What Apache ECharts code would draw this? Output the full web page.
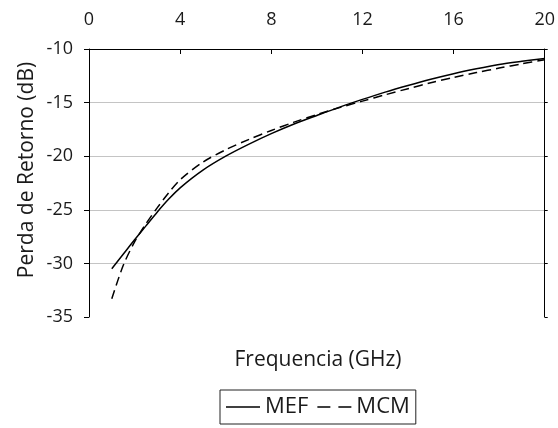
<!DOCTYPE html>
<html><head><meta charset="utf-8">
<script src="https://cdn.jsdelivr.net/npm/echarts@6/dist/echarts.min.js"></script>
<style>html,body{margin:0;padding:0;background:#fff}#c{width:558px;height:428px}</style>
</head><body><div id="c"></div>
<script>
const freq = [1, 1.5, 2, 2.5, 3, 3.5, 4, 5, 6, 7, 8, 9, 10, 11, 12, 13, 14, 15, 16, 17, 18, 19, 20];
const mef  = [-30.5, -29.15, -27.8, -26.5, -25.2, -24.0, -22.95, -21.3, -20.0, -18.9, -17.9, -17.0, -16.2, -15.42, -14.7, -14.02, -13.4, -12.82, -12.3, -11.85, -11.45, -11.15, -10.88];
const mcm  = [-33.3, -30.2, -28.0, -26.3, -24.8, -23.4, -22.2, -20.55, -19.4, -18.45, -17.6, -16.82, -16.12, -15.47, -14.86, -14.27, -13.7, -13.15, -12.65, -12.2, -11.78, -11.38, -11.0];
const xTicks = [0, 4, 8, 12, 16, 20];
const yTicks = [-35, -30, -25, -20, -15, -10];
const seriesNames = ['MEF', 'MCM'];
const xTitle = 'Frequencia (GHz)';
const yTitle = 'Perda de Retorno (dB)';

const FONT = '"Open Sans"';
const TXT = '#1a1a1a';
const chart = echarts.init(document.getElementById('c'), null, {renderer: 'canvas'});
const pair = (xs, ys) => xs.map((x, i) => [x, ys[i]]);
chart.setOption({
  animation: false,
  textStyle: {fontFamily: FONT},
  grid: {left: 89, right: 10, top: 49, bottom: 111},
  xAxis: {
    type: 'value', position: 'top', min: xTicks[0], max: xTicks[xTicks.length - 1], interval: xTicks[1] - xTicks[0],
    axisLine: {show: true, lineStyle: {color: '#000', width: 1}},
    axisTick: {show: true, inside: true, length: 5, lineStyle: {color: '#000'}},
    axisLabel: {color: TXT, fontSize: 18, fontFamily: FONT, margin: 20},
    splitLine: {show: false}
  },
  yAxis: [{
    type: 'value', min: yTicks[0], max: yTicks[yTicks.length - 1], interval: yTicks[1] - yTicks[0],
    axisLine: {show: true, lineStyle: {color: '#000', width: 1}},
    axisTick: {show: true, length: 5, lineStyle: {color: '#000'}},
    axisLabel: {color: TXT, fontSize: 18, fontFamily: FONT, margin: 16},
    splitLine: {show: true, lineStyle: {color: ['rgba(0,0,0,0)', '#c4c4c4', '#c4c4c4', '#c4c4c4', '#c4c4c4', 'rgba(0,0,0,0)'], width: 1}}
  }, {
    type: 'value', position: 'right', min: yTicks[0], max: yTicks[yTicks.length - 1], interval: yTicks[1] - yTicks[0],
    axisLine: {show: true, lineStyle: {color: '#000', width: 1}},
    axisTick: {show: true, length: 3, lineStyle: {color: '#000'}},
    axisLabel: {show: false},
    splitLine: {show: false}
  }],
  legend: {
    left: 220, top: 390,
    itemWidth: 34, itemHeight: 1.5, itemGap: 9,
    borderColor: '#222', borderWidth: 1, borderRadius: 0,
    padding: [5, 6, 5, 6],
    textStyle: {color: TXT, fontSize: 22, fontFamily: FONT, lineHeight: 24},
    data: [
      {name: seriesNames[0], icon: 'path://M0,0h34v1.5h-34z'},
      {name: seriesNames[1], icon: 'path://M0,0h13v1.5h-13z M21,0h13v1.5h-13z'}
    ]
  },
  graphic: [{
    type: 'text', x: 318, y: 360,
    style: {text: xTitle, fill: TXT, font: '21px ' + FONT, textAlign: 'center', textVerticalAlign: 'middle'}
  }, {
    type: 'text', x: 27, y: 170, rotation: Math.PI / 2,
    style: {text: yTitle, fill: TXT, font: '21px ' + FONT, textAlign: 'center', textVerticalAlign: 'middle'}
  }],
  series: [{
    name: seriesNames[0], type: 'line', data: pair(freq, mef), smooth: 0.3, showSymbol: false, symbol: 'none',
    lineStyle: {color: '#000', width: 1.5, type: 'solid'}, itemStyle: {color: '#000'}
  }, {
    name: seriesNames[1], type: 'line', data: pair(freq, mcm), smooth: 0.3, showSymbol: false, symbol: 'none',
    lineStyle: {color: '#000', width: 1.5, type: [9, 5]}, itemStyle: {color: '#000'}
  }]
});
</script></body></html>
